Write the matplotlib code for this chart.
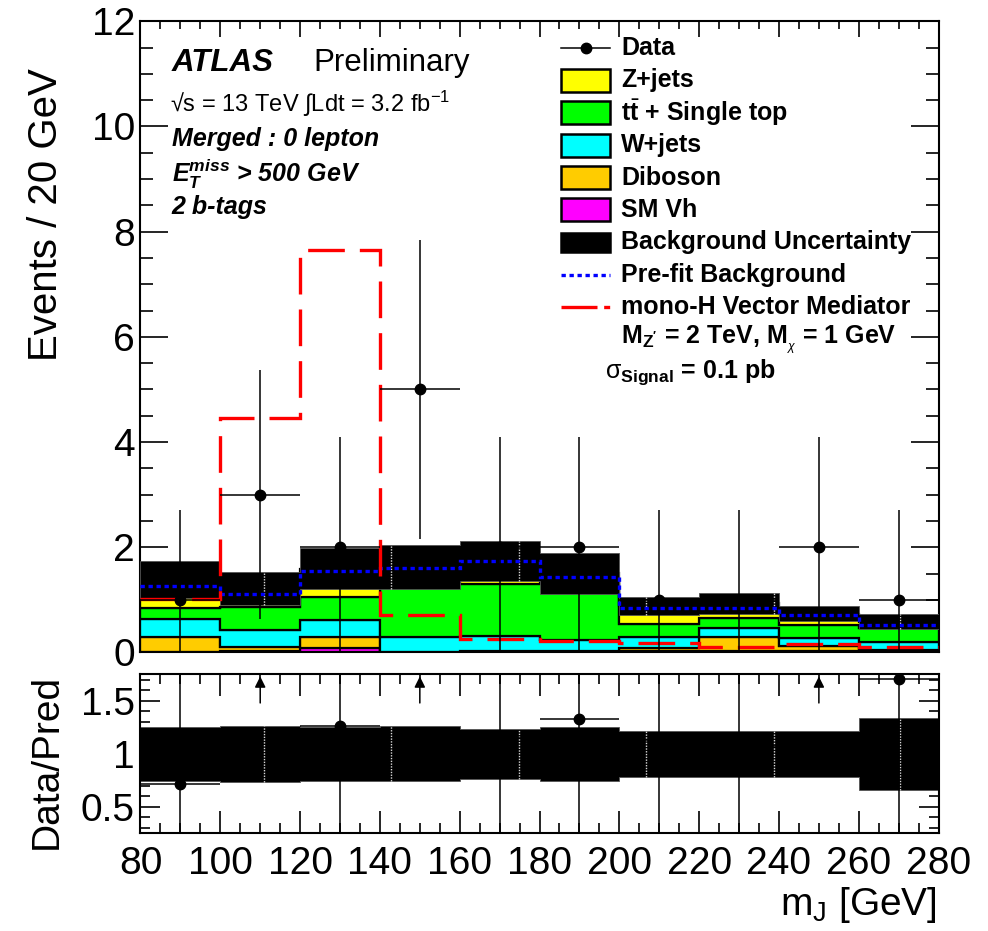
import matplotlib
matplotlib.use("Agg")
import matplotlib.pyplot as plt
import numpy as np
from matplotlib.patches import Rectangle
from matplotlib.lines import Line2D
from matplotlib.ticker import MultipleLocator, FixedLocator, FixedFormatter

plt.rcParams["font.family"] = ["Liberation Sans", "DejaVu Sans"]
plt.rcParams["mathtext.fontset"] = "custom"
plt.rcParams["mathtext.rm"] = "Liberation Sans"
plt.rcParams["mathtext.it"] = "Liberation Sans:italic"
plt.rcParams["mathtext.bf"] = "Liberation Sans:bold"
plt.rcParams["mathtext.bfit"] = "Liberation Sans:italic:bold"

# m_J binning, 20 GeV bins
edges = np.arange(80, 281, 20)

data = [1, 3, 2, 5, 2, 2, 1, 1, 2, 1]
data_err = [1.71, 2.37, 2.10, 2.84, 2.10, 2.10, 1.71, 1.71, 2.10, 1.71]

# post-fit background components, stacked bottom -> top
sm_vh = [0.01, 0.03, 0.08, 0.00, 0.00, 0.00, 0.02, 0.02, 0.02, 0.02]
diboson = [0.29, 0.07, 0.22, 0.01, 0.03, 0.02, 0.06, 0.27, 0.10, 0.03]
wjets = [0.335, 0.33, 0.32, 0.29, 0.29, 0.22, 0.22, 0.18, 0.16, 0.15]
ttbar = [0.205, 0.43, 0.44, 1.20, 0.99, 1.12, 0.25, 0.19, 0.24, 0.27]
zjets = [0.55, 0.36, 0.53, 0.12, 0.43, 0.15, 0.335, 0.275, 0.22, 0.115]

bkg_unc = [0.355, 0.31, 0.39, 0.42, 0.38, 0.39, 0.175, 0.195, 0.14, 0.14]
ratio_unc = [0.256, 0.266, 0.253, 0.261, 0.235, 0.253, 0.218, 0.218, 0.218, 0.338]

prefit = [1.27, 1.12, 1.54, 1.60, 1.74, 1.44, 0.84, 0.85, 0.705, 0.52]
signal = [1.01, 4.45, 7.65, 0.72, 0.25, 0.22, 0.185, 0.11, 0.17, 0.11]

# thin seams left in the uncertainty band by the hatch rendering
seam_x = [110.9, 142.8, 174.9, 206.8, 238.7, 270.4]

components = [
    (sm_vh, "#ff00ff"),
    (diboson, "#ffcc00"),
    (wjets, "#00ffff"),
    (ttbar, "#00ff00"),
    (zjets, "#ffff00"),
]

centers = 0.5 * (edges[:-1] + edges[1:])
half_w = 0.5 * np.diff(edges)
data = np.array(data, dtype=float)
data_err = np.array(data_err)
bkg_unc = np.array(bkg_unc)
ratio_unc = np.array(ratio_unc)

fig = plt.figure(figsize=(9.88, 9.31), dpi=100)
ax = fig.add_axes([0.1422, 0.2992, 0.8078, 0.678])
axr = fig.add_axes([0.1422, 0.1049, 0.8078, 0.1708], sharex=ax)

# ---- main panel -------------------------------------------------------
base = np.zeros(len(centers))
for vals, col in components:
    top = base + np.array(vals)
    ax.stairs(top, edges, baseline=base.copy(), fill=True,
              facecolor=col, edgecolor="black", lw=1.6, zorder=2)
    base = top
total = base

ax.stairs(total + bkg_unc, edges, baseline=total - bkg_unc, fill=True,
          facecolor="black", edgecolor="#555555", lw=0.6, zorder=3)
for xs in seam_x:
    i = np.searchsorted(edges, xs) - 1
    ax.plot([xs, xs], [total[i] - bkg_unc[i], total[i] + bkg_unc[i]],
            color="#d8d8d8", lw=1.0, ls=(0, (1, 1)), zorder=3.5)

ax.stairs(prefit, edges, baseline=None, color="#0000ff", lw=2.4,
          ls=(0, (1.3, 1.1)), zorder=4)
ax.stairs(signal, edges, baseline=None, color="#ff0000", lw=2.4,
          ls=(0, (11, 4.5)), zorder=5)
ax.errorbar(centers, data, xerr=half_w, yerr=data_err, fmt="o",
            color="black", ms=7.5, lw=1.1, capsize=0, zorder=6)

ax.set_xlim(80, 280)
ax.set_ylim(0, 12)
ax.yaxis.set_major_locator(MultipleLocator(2))
ax.yaxis.set_minor_locator(MultipleLocator(0.5))
ax.xaxis.set_major_locator(MultipleLocator(20))
ax.xaxis.set_minor_locator(MultipleLocator(5))
ax.tick_params(axis="y", which="major", length=20, width=1.2)
ax.tick_params(axis="y", which="minor", length=9.5, width=1.2)
ax.tick_params(axis="x", which="major", length=11.5, width=1.2)
ax.tick_params(axis="x", which="minor", length=5.5, width=1.2)
ax.tick_params(which="both", direction="in", top=True, right=True,
               labelsize=28, pad=4)
ax.tick_params(axis="x", labelbottom=False)
for s in ax.spines.values():
    s.set_linewidth(1.5)
ax.text(-0.118, 0.925, "Events / 20 GeV", transform=ax.transAxes,
        rotation=90, ha="center", va="top", fontsize=29)

# ATLAS label block
ax.text(0.0395, 0.934, "ATLAS", transform=ax.transAxes, fontsize=22.5,
        fontweight="bold", style="italic", va="center")
ax.text(0.216, 0.934, "Preliminary", transform=ax.transAxes,
        fontsize=22.5, va="center")
ax.text(0.037, 0.869, "\u221as = 13 TeV \u222bLdt = 3.2 fb$^{-1}$",
        transform=ax.transAxes, fontsize=17, va="center")
ax.text(0.039, 0.813, "Merged : 0 lepton", transform=ax.transAxes,
        fontsize=18, fontweight="bold", style="italic", va="center")
ax.text(0.039, 0.758, r"$\mathbfit{E}_{\mathbfit{T}}^{\mathbfit{miss}}$ > 500 GeV",
        transform=ax.transAxes, fontsize=18, fontweight="bold",
        style="italic", va="center")
ax.text(0.039, 0.706, "2 b-tags", transform=ax.transAxes, fontsize=18,
        fontweight="bold", style="italic", va="center")

# legend, drawn by hand in axes coordinates
lg_x, lg_w, lg_h = 0.5269, 0.0614, 0.0364
txt_x = 0.602
row_y = [0.9575 - 0.0513 * k for k in range(11)]
tr = ax.transAxes


def leg_box(y, col, h=lg_h, edge="black"):
    ax.add_patch(Rectangle((lg_x, y - h / 2), lg_w, h, transform=tr,
                           facecolor=col, edgecolor=edge, lw=1.8,
                           clip_on=False, zorder=7))


def leg_text(y, s, x=txt_x):
    ax.text(x, y, s, transform=tr, fontsize=18, fontweight="bold",
            va="center", zorder=7)


ax.add_line(Line2D([lg_x, lg_x + lg_w], [row_y[0]] * 2, transform=tr,
                   color="black", lw=1.1, zorder=7))
ax.add_line(Line2D([lg_x + lg_w / 2], [row_y[0]], transform=tr,
                   marker="o", ms=7.5, color="black", zorder=7))
leg_text(row_y[0], "Data")
labels = ["Z+jets", r"t$\bar{\mathbf{t}}$ + Single top", "W+jets",
          "Diboson", "SM Vh"]
for k, (lab, (_, col)) in enumerate(zip(labels, components[::-1])):
    leg_box(row_y[k + 1], col)
    leg_text(row_y[k + 1], lab)
leg_box(row_y[6], "black", h=0.031, edge="black")
leg_text(row_y[6], "Background Uncertainty")
ax.add_line(Line2D([lg_x, lg_x + lg_w], [row_y[7]] * 2, transform=tr,
                   color="#0000ff", lw=2.4, ls=(0, (1.3, 1.1)), zorder=7))
leg_text(row_y[7], "Pre-fit Background")
ax.add_line(Line2D([lg_x, lg_x + lg_w], [row_y[8]] * 2, transform=tr,
                   color="#ff0000", lw=2.4, ls=(0, (10.8, 2.0, 1.8, 3.0)),
                   zorder=7))
leg_text(row_y[8], "mono-H Vector Mediator")
leg_text(row_y[9], r"M$_{\mathbf{Z'}}$ = 2 TeV, M$_{_{\chi}}$ = 1 GeV")
ax.text(0.582, row_y[10], r"$\mathrm{\sigma}_{\mathbf{Signal}}$ = 0.1 pb",
        transform=tr, fontsize=18, fontweight="bold", va="center")

# ---- ratio panel ------------------------------------------------------
r_lo, r_hi = 0.25, 1.75
axr.stairs(1 + ratio_unc, edges, baseline=1 - ratio_unc, fill=True,
           facecolor="black", edgecolor="#555555", lw=0.6, zorder=2)
for xs in seam_x:
    i = np.searchsorted(edges, xs) - 1
    axr.plot([xs, xs], [1 - ratio_unc[i], 1 + ratio_unc[i]],
             color="#d8d8d8", lw=1.0, ls=(0, (1, 1)), zorder=2.5)

ratio = data / total
ratio_err = data_err / total
inside = ratio <= r_hi
axr.errorbar(centers[inside], ratio[inside], xerr=half_w[inside],
             yerr=ratio_err[inside], fmt="o", color="black", ms=7.5,
             lw=1.1, capsize=0, zorder=4)
for xc in centers[~inside]:
    axr.annotate("", xy=(xc, r_hi - 0.02), xytext=(xc, r_hi - 0.27),
                 arrowprops=dict(arrowstyle="-|>", color="black", lw=1.1,
                                 mutation_scale=16, shrinkA=0, shrinkB=0),
                 zorder=4)

axr.set_ylim(r_lo, r_hi)
axr.yaxis.set_major_locator(FixedLocator([0.5, 1.0, 1.5]))
axr.yaxis.set_major_formatter(FixedFormatter(["0.5", "1", "1.5"]))
axr.yaxis.set_minor_locator(MultipleLocator(0.1))
axr.tick_params(axis="y", which="major", length=14.4, width=1.2)
axr.tick_params(axis="y", which="minor", length=7.2, width=1.2)
axr.tick_params(axis="x", which="major", length=15.8, width=1.2)
axr.tick_params(axis="x", which="minor", length=7.2, width=1.2)
axr.tick_params(which="both", direction="in", top=True, right=True,
                labelsize=28, pad=4)
axr.tick_params(axis="x", pad=9)
for s in axr.spines.values():
    s.set_linewidth(1.5)
axr.text(-0.118, 1.005, "Data/Pred", transform=axr.transAxes, rotation=90,
         ha="center", va="top", fontsize=28)
fig.text(0.9484, 0.028, r"m$_{\mathrm{J}}$ [GeV]", ha="right",
         va="center", fontsize=28)

fig.savefig("out.png", dpi=100)
